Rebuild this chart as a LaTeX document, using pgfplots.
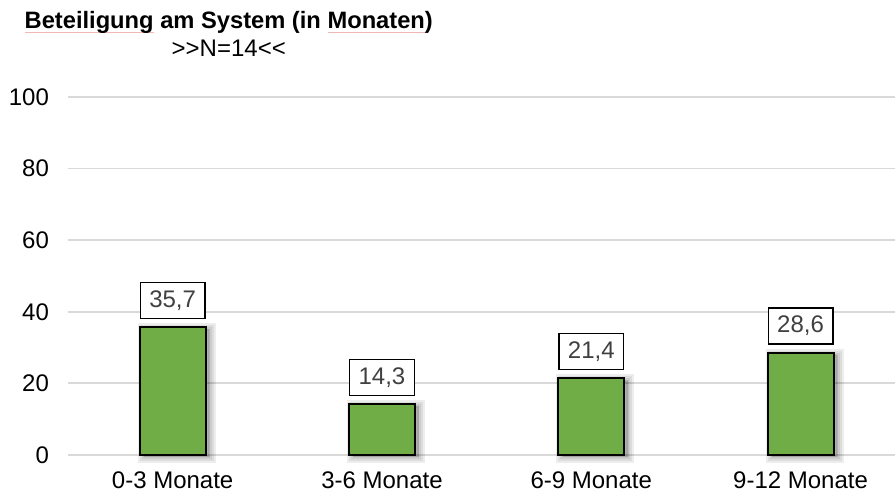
\documentclass[border=0pt]{standalone}
\usepackage{pgfplots}
\pgfplotsset{compat=1.18}
\usepackage{fontspec}
\setmainfont{Liberation Sans}
\definecolor{bargreen}{HTML}{70AD47}
\definecolor{gridgray}{HTML}{D9D9D9}
\definecolor{labelgray}{HTML}{404040}
\definecolor{squig}{HTML}{F2B8B8}
% faint red underline beneath a word
\newcommand\squig[1]{\setbox0\hbox{#1}\rlap{\textcolor{squig}{\rule[-2.4pt]{\wd0}{0.6pt}}}\box0\relax}
\pgfplotstableread{
x  y
0  35.7
1  14.3
2  21.4
3  28.6
}\monate
% soft shadow layer behind the bars
\pgfplotsset{shadowlayer/.style={ybar, bar width=33pt, bar shift=0pt, forget plot,
  fill=black, draw=black, line width=#1, opacity=0.07,
  xshift=2pt, yshift=-1pt}}
\begin{document}
\begin{tikzpicture}
\path[use as bounding box] (-34pt,-19pt) rectangle (413.5pt,227.5pt);
\begin{axis}[
  at={(0,0)}, anchor=south west,
  scale only axis,
  width=413.5pt, height=179pt,
  xmin=-0.5, xmax=3.451,
  ymin=0, ymax=100,
  ytick={0,20,...,100},
  xtick={0,1,2,3},
  xticklabels={0-3 Monate,3-6 Monate,6-9 Monate,9-12 Monate},
  axis line style={draw=none},
  tick style={draw=none},
  ymajorgrids, grid style={gridgray, line width=0.9pt},
  tick label style={font=\fontsize{12}{14}\selectfont, text=black},
  yticklabel style={xshift=-6pt},
  xticklabel style={yshift=-5pt},
  /pgf/number format/assume math mode=true,
  clip=false,
]
\addplot[shadowlayer=6pt] table[x=x, y=y] {\monate};
\addplot[shadowlayer=4pt] table[x=x, y=y] {\monate};
\addplot[shadowlayer=2pt] table[x=x, y=y] {\monate};
\addplot[ybar, bar width=33pt, bar shift=0pt, fill=bargreen, draw=black, line width=0.9pt,
  nodes near coords,
  nodes near coords style={
    /pgf/number format/.cd, use comma, fixed, fixed zerofill, precision=1, assume math mode=true,
    /tikz/.cd,
    font=\fontsize{12}{14}\selectfont, text=labelgray,
    draw=black, fill=white, line width=0.6pt,
    inner xsep=4.5pt, minimum height=18pt,
    anchor=south, yshift=4pt},
] table[x=x, y=y] {\monate};
\node[font=\bfseries\fontsize{11.85}{14}\selectfont] at (axis cs:0.268,120.9) {\squig{Beteiligung} am System (in \squig{Monaten})};
\node[font=\fontsize{12}{14}\selectfont] at (axis cs:0.268,113.6) {>{}>N=14<{}<};
\end{axis}
\end{tikzpicture}
\end{document}
